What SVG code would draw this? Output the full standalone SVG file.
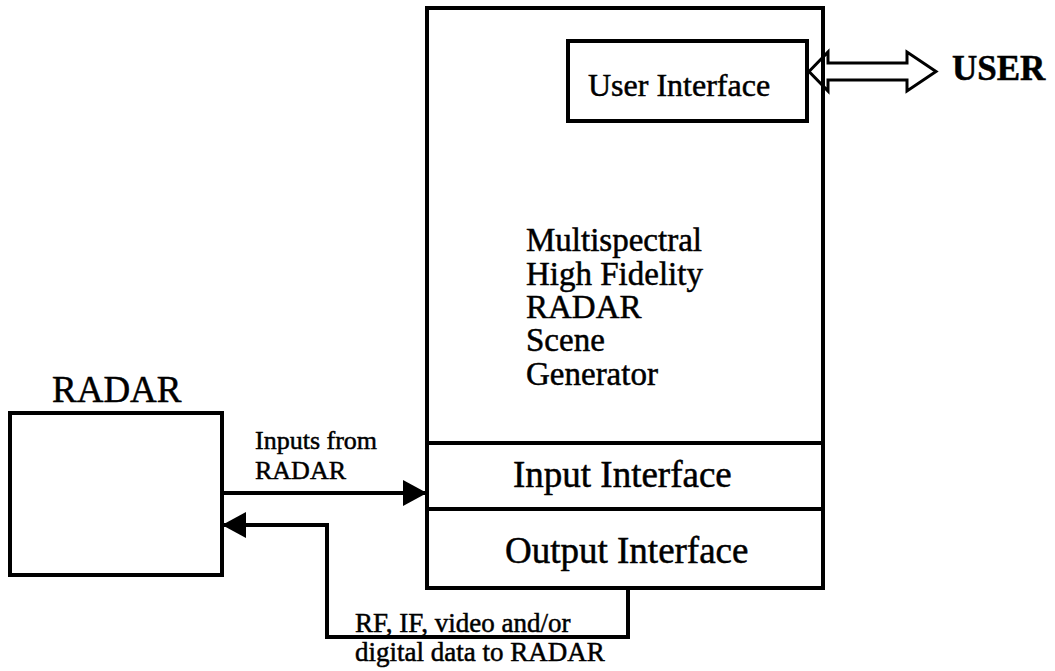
<svg xmlns="http://www.w3.org/2000/svg" width="1055" height="671" viewBox="0 0 1055 671">
<style>
.box{fill:none;stroke:#000;stroke-width:4}
.ln{fill:none;stroke:#000;stroke-width:4}
.t{font-family:"Liberation Serif","Times New Roman",serif;fill:#000;stroke:#000;stroke-width:0.5}
.big{font-size:37px}
.mid{font-size:33px}
.sm{font-size:26px}
</style>
<defs>
<marker id="ah" markerWidth="24" markerHeight="26" refX="24" refY="13" orient="auto" markerUnits="userSpaceOnUse">
<path d="M0,0 L24,13 L0,26 Z" fill="#000"/>
</marker>
</defs>
<rect width="1055" height="671" fill="#fff"/>
<g id="radar">
<rect class="box" x="10" y="413" width="212" height="162"/>
<text class="t big" x="52" y="402">RADAR</text>
</g>
<g id="generator">
<rect class="box" x="427" y="8" width="396" height="580"/>
<text class="t mid" x="526" y="251">Multispectral</text>
<text class="t mid" x="526" y="285">High Fidelity</text>
<text class="t mid" x="526" y="318">RADAR</text>
<text class="t mid" x="526" y="351">Scene</text>
<text class="t mid" x="526" y="385">Generator</text>
</g>
<g id="user-interface">
<rect class="box" x="568" y="41" width="239" height="80"/>
<text class="t" font-size="32" x="588" y="96">User Interface</text>
</g>
<g id="input-interface">
<line class="ln" x1="427" y1="443" x2="823" y2="443"/>
<text class="t big" x="513" y="487">Input Interface</text>
</g>
<g id="output-interface">
<line class="ln" x1="427" y1="509" x2="823" y2="509"/>
<text class="t big" x="505" y="563">Output Interface</text>
</g>
<g id="user">
<text class="t" font-size="35" font-weight="bold" x="952" y="80">USER</text>
</g>
<g id="connectors">
<path d="M809,71.5 L828,52 L828,63 L907,63 L907,52 L936,71.5 L907,91 L907,80 L828,80 L828,91 Z" fill="none" stroke="#000" stroke-width="3"/>
<line class="ln" x1="222" y1="493" x2="427" y2="493" marker-end="url(#ah)"/>
<polyline class="ln" points="628,588 628,637 327,637 327,525 222,525" marker-end="url(#ah)"/>
<text class="t sm" x="255" y="449">Inputs from</text>
<text class="t sm" x="255" y="479">RADAR</text>
<text class="t" font-size="27" x="355" y="632">RF, IF, video and/or</text>
<text class="t" font-size="27" x="355" y="661">digital data to RADAR</text>
</g>
</svg>
